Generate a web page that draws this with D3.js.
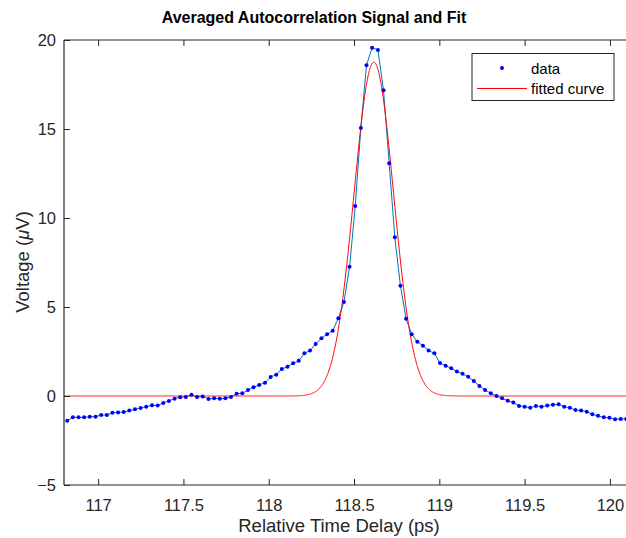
<!DOCTYPE html>
<html>
<head>
<meta charset="utf-8">
<script src="https://cdn.jsdelivr.net/npm/d3@7"></script>
<style>
  body { margin: 0; background: #fff; }
  text { font-family: "Liberation Sans", Arial, Helvetica, sans-serif; }
</style>
</head>
<body>
<div class="vis-holder"></div>
<script>
// sample delays (ps)
var delays = [116.819, 116.852, 116.885, 116.918, 116.951, 116.985, 117.018, 117.051, 117.084, 117.117,
  117.150, 117.183, 117.216, 117.249, 117.282, 117.316, 117.349, 117.382, 117.415, 117.448,
  117.481, 117.514, 117.547, 117.580, 117.613, 117.647, 117.680, 117.713, 117.746, 117.779,
  117.812, 117.845, 117.878, 117.911, 117.944, 117.978, 118.011, 118.044, 118.077, 118.110,
  118.143, 118.176, 118.209, 118.242, 118.275, 118.309, 118.342, 118.375, 118.408, 118.441,
  118.474, 118.507, 118.540, 118.573, 118.606, 118.640, 118.673, 118.706, 118.739, 118.772,
  118.805, 118.838, 118.871, 118.904, 118.937, 118.971, 119.004, 119.037, 119.070, 119.103,
  119.136, 119.169, 119.202, 119.235, 119.268, 119.302, 119.335, 119.368, 119.401, 119.434,
  119.467, 119.500, 119.533, 119.566, 119.599, 119.633, 119.666, 119.699, 119.732, 119.765,
  119.798, 119.831, 119.864, 119.897, 119.930, 119.964, 119.997, 120.030, 120.063, 120.096];

// averaged signal (uV)
var voltages = [-1.39, -1.20, -1.20, -1.20, -1.16, -1.16, -1.07, -1.07, -0.94, -0.92,
  -0.90, -0.82, -0.75, -0.67, -0.60, -0.52, -0.54, -0.39, -0.28, -0.15,
  -0.07, -0.05, 0.07, -0.05, -0.03, -0.17, -0.13, -0.15, -0.13, -0.05,
  0.13, 0.15, 0.34, 0.49, 0.62, 0.75, 1.07, 1.20, 1.52, 1.65,
  1.84, 1.98, 2.40, 2.55, 2.92, 3.24, 3.47, 3.67, 4.37, 5.28,
  7.26, 10.67, 15.06, 18.58, 19.57, 19.44, 17.17, 13.07, 8.92, 6.20,
  4.34, 3.47, 3.05, 2.83, 2.55, 2.40, 1.85, 1.70, 1.56, 1.37,
  1.25, 1.08, 0.84, 0.56, 0.34, 0.15, 0.00, -0.13, -0.26, -0.37,
  -0.56, -0.60, -0.66, -0.56, -0.60, -0.54, -0.49, -0.47, -0.60, -0.66,
  -0.79, -0.82, -0.88, -1.03, -1.11, -1.20, -1.22, -1.31, -1.29, -1.29];

// gaussian fit parameters: amplitude (uV), centre (ps), sigma (ps)
var fitAmp = 18.75;
var fitCenter = 118.616;
var fitSigma = 0.116;

var xTicks = [117, 117.5, 118, 118.5, 119, 119.5, 120];
var yTicks = [-5, 0, 5, 10, 15, 20];
var legendLabels = ["data", "fitted curve"];

var width = 626;
var height = 538;
var margin = { top: 40, bottom: 53, left: 64, right: -1 };

var svg = d3.select('div.vis-holder')
  .append('svg')
  .attr('width', width)
  .attr('height', height)
  .style('display', 'block');

var xScale = d3.scaleLinear()
  .domain([116.8, 120.1])
  .range([margin.left, width - margin.right]);

var yScale = d3.scaleLinear()
  .domain([-5, 20])
  .range([height - margin.bottom, margin.top]);

var plot = svg.append("g");
svg.append("clipPath").attr("id", "clip")
  .append("rect")
  .attr("x", margin.left).attr("y", margin.top)
  .attr("width", width - margin.right - margin.left)
  .attr("height", height - margin.bottom - margin.top);
plot.attr("clip-path", "url(#clip)");

// fitted curve sampled along the x range
var fitX = d3.range(116.8, 120.1, 0.002);
var fitLine = d3.line()
  .x(function(d) { return xScale(d); })
  .y(function(d) { return yScale(fitAmp * Math.exp(-Math.pow(d - fitCenter, 2) / (2 * fitSigma * fitSigma))); });

var data = delays.map(function(d, i) { return { t: d, v: voltages[i] }; });

var dataLine = d3.line()
  .x(function(d) { return xScale(d.t); })
  .y(function(d) { return yScale(d.v); });

plot.append("path")
  .datum(data)
  .attr("d", dataLine)
  .attr("fill", "none")
  .attr("stroke", "#0072bd")
  .attr("stroke-width", 1);

plot.append("path")
  .datum(fitX)
  .attr("d", fitLine)
  .attr("fill", "none")
  .attr("stroke", "#ff0000")
  .attr("stroke-width", 1);

plot.append("g")
  .selectAll("circle")
  .data(data)
  .enter()
  .append("circle")
  .attr("cx", function(d) { return xScale(d.t); })
  .attr("cy", function(d) { return yScale(d.v); })
  .attr("r", 2)
  .attr("fill", "#0000ff");

// axes, MATLAB style: ticks inward, box
var axisColor = "#262626";

var xAxis = svg.append("g")
  .attr("transform", `translate(0, ${height - margin.bottom})`)
  .call(d3.axisBottom(xScale).tickValues(xTicks).tickSize(-6).tickPadding(14).tickFormat(d3.format("")));

var xAxisTop = svg.append("g")
  .attr("transform", `translate(0, ${margin.top})`)
  .call(d3.axisTop(xScale).tickValues(xTicks).tickSize(-6).tickFormat(""));

var yAxis = svg.append("g")
  .attr("transform", `translate(${margin.left}, 0)`)
  .call(d3.axisLeft(yScale).tickValues(yTicks).tickSize(-6).tickPadding(8));

[xAxis, xAxisTop, yAxis].forEach(function(g) {
  g.select(".domain").attr("stroke", axisColor).attr("stroke-width", 1.2);
  g.selectAll(".tick line").attr("stroke", axisColor);
  g.selectAll(".tick text").attr("fill", axisColor).style("font-size", "16.5px");
});
xAxis.select(".domain").attr("d", `M${margin.left},0H${width}`);
xAxisTop.select(".domain").attr("d", `M${margin.left},0H${width}`);
yAxis.select(".domain").attr("d", `M0,${margin.top}V${height - margin.bottom}`);

var xLabel = svg.append("text")
  .attr("text-anchor", "middle")
  .attr("x", 339)
  .attr("y", 532)
  .attr("fill", axisColor)
  .style("font-size", "18.5px")
  .text("Relative Time Delay (ps)");

var yLabel = svg.append("text")
  .attr("text-anchor", "middle")
  .attr("transform", "translate(29," + 262 + ")rotate(-90)")
  .attr("fill", axisColor)
  .style("font-size", "18.5px");
yLabel.append("tspan").text("Voltage (");
yLabel.append("tspan").style("font-style", "italic").text("\u03bc");
yLabel.append("tspan").text("V)");

var chartTitle = svg.append("text")
  .attr("text-anchor", "middle")
  .attr("x", 314)
  .attr("y", 23)
  .attr("fill", "#000")
  .style("font-size", "16px")
  .style("font-weight", "bold")
  .text("Averaged Autocorrelation Signal and Fit");

// legend
var legend = svg.append("g");
legend.append("rect")
  .attr("x", 472).attr("y", 53.5)
  .attr("width", 142).attr("height", 47)
  .attr("fill", "#fff")
  .attr("stroke", axisColor)
  .attr("stroke-width", 1);

legend.append("circle")
  .attr("cx", 502).attr("cy", 68)
  .attr("r", 2)
  .attr("fill", "#0000ff");
legend.append("line")
  .attr("x1", 477).attr("x2", 527)
  .attr("y1", 88.5).attr("y2", 88.5)
  .attr("stroke", "#ff0000")
  .attr("stroke-width", 1);

legend.selectAll("text")
  .data(legendLabels)
  .enter()
  .append("text")
  .attr("x", 531)
  .attr("y", function(d, i) { return 69 + i * 20; })
  .attr("dy", "0.35em")
  .attr("fill", "#000")
  .style("font-size", "15px")
  .text(function(d) { return d; });
</script>
</body>
</html>
